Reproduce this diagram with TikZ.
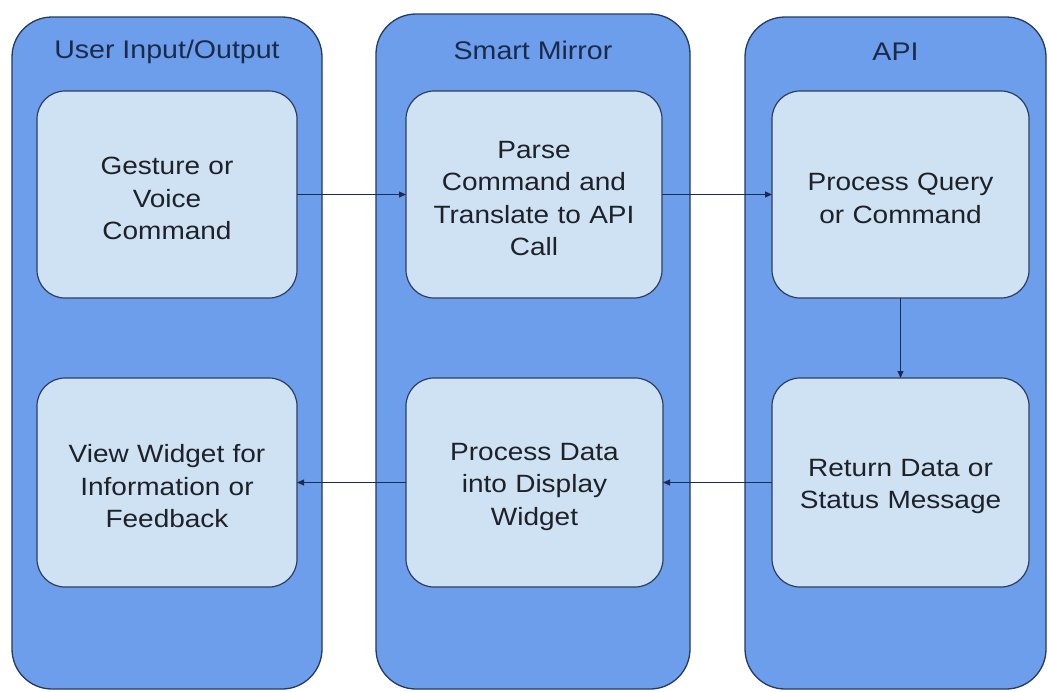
\documentclass[tikz,border=0pt]{standalone}
\usepackage{fontspec}
\setmainfont{Liberation Sans}[FakeStretch=1.12]
\usetikzlibrary{arrows.meta}
\definecolor{colfill}{HTML}{6D9EEB}
\definecolor{colline}{HTML}{243A60}
\definecolor{boxfill}{HTML}{CFE2F3}
\definecolor{boxline}{HTML}{2B3E5E}
\definecolor{titletext}{HTML}{1C2A4A}
\definecolor{bodytext}{HTML}{1E2128}
\definecolor{arrowcol}{HTML}{1C2A55}
\tikzset{
  column/.style={draw=colline, fill=colfill, line width=1.3pt, rounded corners=40pt, inner sep=0pt, outer sep=0pt},
  coltitle/.style={text=titletext, font=\fontsize{25.5}{30}\selectfont, inner sep=0pt},
  stepbox/.style={draw=boxline, fill=boxfill, line width=1.2pt, rounded corners=28pt, inner sep=0pt, outer sep=0pt,
    minimum height=207pt},
  steptext/.style={align=center, text width=250pt, inner sep=0pt,
    text=bodytext, font=\fontsize{25}{32.5}\selectfont},
  flow/.style={draw=arrowcol, line width=1pt, -{Triangle[length=7pt,width=6pt]}}
}
\begin{document}
\begin{tikzpicture}[x=1pt,y=-1pt]
\useasboundingbox (0,0) rectangle (1048,691);
\fill[white] (0,0) rectangle (1048,691);
% columns
\node[column, minimum width=310pt, minimum height=672pt] (c1) at (167,353) {};
\node[column, minimum width=314pt, minimum height=675pt] (c2) at (533,351.5) {};
\node[column, minimum width=301pt, minimum height=672pt] (c3) at (895.5,353) {};
\node[coltitle] (t1) at (167,52) {User Input/Output};
\node[coltitle] (t2) at (533,50) {Smart Mirror};
\node[coltitle] (t3) at (895.5,52) {API};
% steps
\node[stepbox, minimum width=260pt] (gesture) at (167,194.5) {};
\node[stepbox, minimum width=256pt] (parse) at (534,194.5) {};
\node[stepbox, minimum width=257pt] (query) at (900.5,194.5) {};
\node[stepbox, minimum width=260pt, minimum height=209pt] (view) at (167,482.5) {};
\node[stepbox, minimum width=257pt, minimum height=209pt] (procdata) at (534.5,482.5) {};
\node[stepbox, minimum width=257pt, minimum height=209pt] (ret) at (900.5,482.5) {};
\node[steptext] (gesture-t) at ([yshift=-4pt]gesture.center) {Gesture or\\Voice\\Command};
\node[steptext] (parse-t) at ([yshift=-4pt]parse.center) {Parse\\Command and\\Translate to API\\Call};
\node[steptext] (query-t) at ([yshift=-4pt]query.center) {Process Query\\or Command};
\node[steptext] (view-t) at ([yshift=-4pt]view.center) {View Widget for\\Information or\\Feedback};
\node[steptext] (procdata-t) at ([yshift=-4pt]procdata.center) {Process Data\\into Display\\Widget};
\node[steptext] (ret-t) at ([yshift=-4pt]ret.center) {Return Data or\\Status Message};
% connectors
\draw[flow] (gesture) -- (parse);
\draw[flow] (parse) -- (query);
\draw[flow] (query) -- (ret);
\draw[flow] (ret) -- (procdata);
\draw[flow] (procdata) -- (view);
\end{tikzpicture}
\end{document}
